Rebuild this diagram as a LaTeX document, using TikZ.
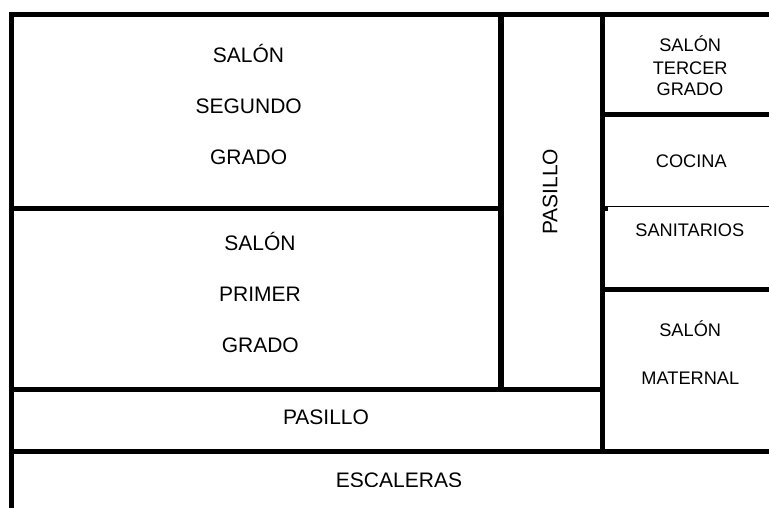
\documentclass[tikz,border=0pt]{standalone}
\usepackage{fontspec}
\setmainfont{Liberation Sans}
\tikzset{
  wall/.style={line width=5.2pt,black,line cap=rect},
  thinwall/.style={line width=1.1pt,black},
  big/.style={font=\fontsize{21}{21}\selectfont,inner sep=0pt,anchor=base},
  small/.style={font=\fontsize{18.2}{18.2}\selectfont,inner sep=0pt,anchor=base},
}
\begin{document}
\begin{tikzpicture}[x=1pt,y=-1pt]
\useasboundingbox (0,0) rectangle (769,507);
\fill[white] (0,0) rectangle (769,507);
\begin{scope}
\clip (0,0) rectangle (769,486);
\node[big] (esc) at (399,487) {ESCALERAS};
\end{scope}
\draw[wall] (11.7,507) -- (11.7,14.6) -- (769,14.6);
\draw[wall] (11.7,208.5) -- (501,208.5);
\draw[wall] (11.7,389.8) -- (602.6,389.8);
\draw[wall] (11.7,451.8) -- (769,451.8);
\draw[wall] (501,14.6) -- (501,389.8);
\draw[wall] (602.6,14.6) -- (602.6,451.8);
\draw[wall] (602.6,114.7) -- (769,114.7);
\draw[wall] (602.6,289.5) -- (769,289.5);
\draw[thinwall] (603,206.5) -- (769,206.5);
\fill (604,206) rectangle (607.7,210.7);
\node[big] (a1) at (248.5,62.5) {SALÓN};
\node[big] (a2) at (248.7,113.5) {SEGUNDO};
\node[big] (a3) at (248.6,164) {GRADO};
\node[big] (b1) at (260,250.7) {SALÓN};
\node[big] (b2) at (260,301) {PRIMER};
\node[big] (b3) at (260.3,352.7) {GRADO};
\node[big] (p1) at (326,424.3) {PASILLO};
\node[big,rotate=90] (p2) at (557.4,191.7) {PASILLO};
\node[small] (c1) at (690.2,51.7) {SALÓN};
\node[small] (c2) at (690.2,74.7) {TERCER};
\node[small] (c3) at (690,95.7) {GRADO};
\node[small] (d) at (691.3,167.7) {COCINA};
\node[small] (e) at (689.8,236) {SANITARIOS};
\node[small] (f1) at (690.2,336) {SALÓN};
\node[small] (f2) at (690.3,384) {MATERNAL};
\end{tikzpicture}
\end{document}
